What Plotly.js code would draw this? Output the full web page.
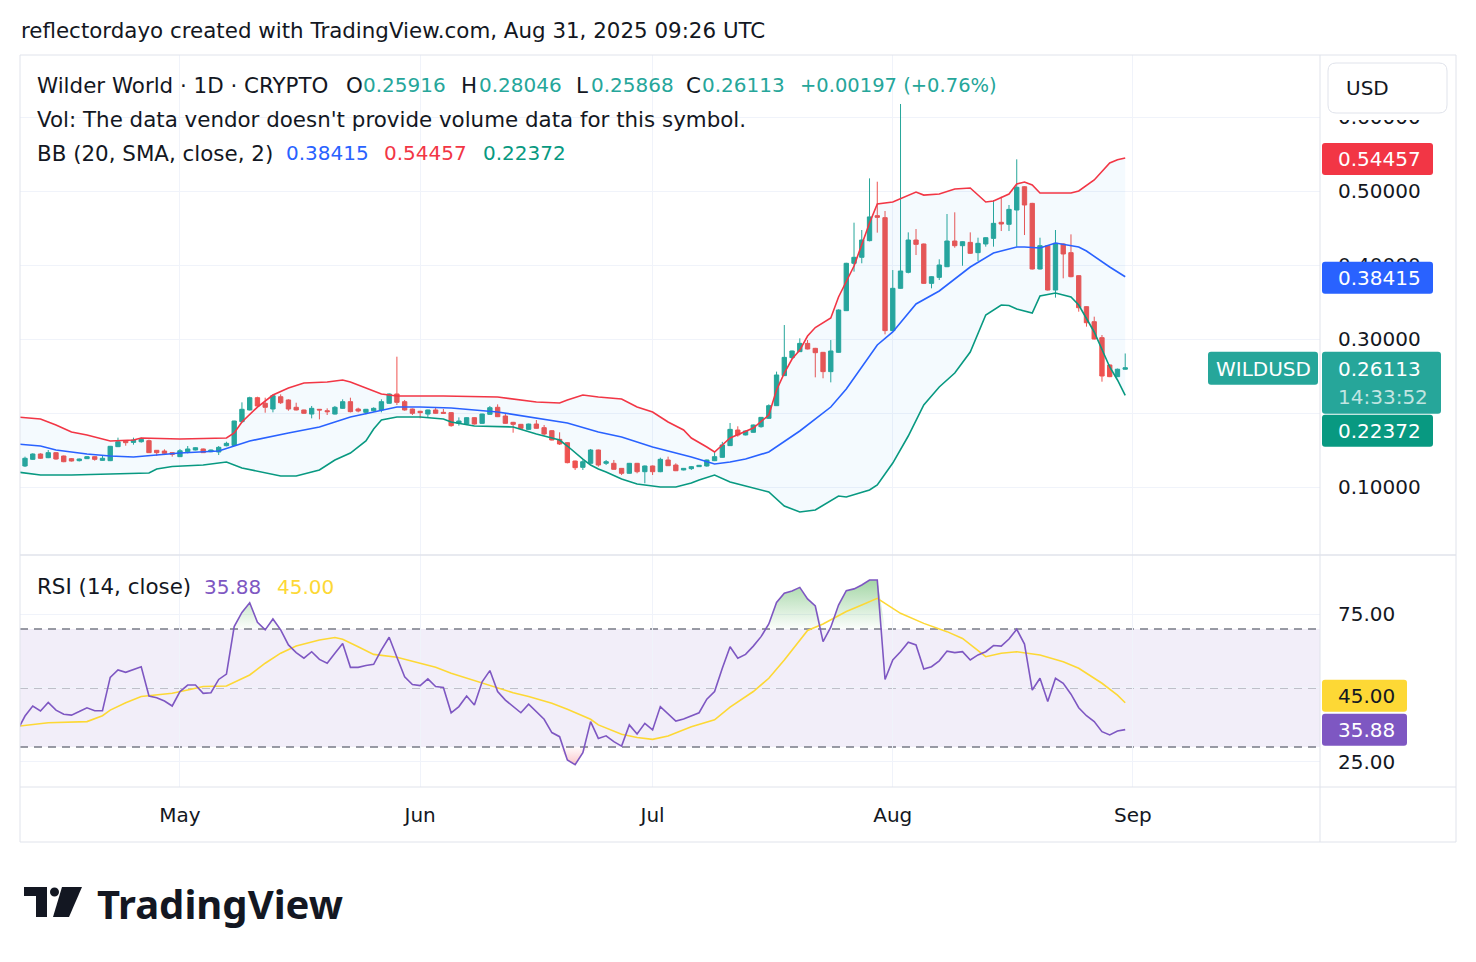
<!DOCTYPE html>
<html>
<head>
<meta charset="utf-8">
<script src="https://cdn.plot.ly/plotly-3.0.1.min.js"></script>
<style>
  html, body { margin: 0; padding: 0; background: #ffffff; }
  #chart { width: 1476px; height: 962px; }
</style>
</head>
<body>
<div id="chart"></div>
<script>
// ---------------- WILDUSD daily candles (first candle = 2025-04-10) ----------------
const firstCandleOffset = -1;   // days relative to 2025-04-11
const opens = [
  0.1392,0.1284,0.1374,0.1446,0.1396,0.1464,0.1419,0.1383,0.1356,0.1383,0.1410,
  0.1360,0.1356,0.1545,0.1622,0.1603,0.1612,0.1626,0.1496,0.1486,0.1464,
  0.1410,0.1477,0.1500,0.1514,0.1477,0.1473,0.1558,0.1560,0.1883,0.2041,
  0.2207,0.2131,0.2054,0.2220,0.2176,0.2077,0.2041,0.1986,0.2050,0.2031,
  0.1986,0.2063,0.2153,0.2054,0.2009,0.2031,0.2041,0.2131,0.2257,0.2153,
  0.2054,0.2023,0.1986,0.2041,0.2009,0.2005,0.1860,0.1851,0.1937,0.1860,
  0.1982,0.2077,0.1959,0.1874,0.1847,0.1779,0.1851,0.1802,0.1761,0.1644,
  0.1599,0.1351,0.1266,0.1320,0.1500,0.1320,0.1320,0.1252,0.1185,0.1320,
  0.1207,0.1284,0.1207,0.1365,0.1297,0.1230,0.1248,0.1275,0.1284,0.1356,
  0.1401,0.1559,0.1770,0.1703,0.1739,0.1815,0.1928,0.2099,0.2505,0.2748,
  0.2829,0.2941,0.2874,0.2820,0.2559,0.2820,0.3383,0.4023,0.4104,0.4329,
  0.4667,0.4640,0.3113,0.3685,0.3901,0.4338,0.4284,0.3752,0.3833,0.3977,
  0.4324,0.4261,0.4306,0.4167,0.4284,0.4360,0.4577,0.4550,0.4743,0.5058,
  0.4833,0.3946,0.4261,0.3662,0.4284,0.4167,0.3856,0.3437,0.3234,0.3018,
  0.2649,0.2491,0.25916
];
const highs = [
  0.1410,0.1410,0.1455,0.1455,0.1500,0.1470,0.1425,0.1392,0.1385,0.1415,0.1415,
  0.1432,0.1555,0.1667,0.1627,0.1667,0.1667,0.1640,0.1500,0.1509,0.1468,
  0.1514,0.1554,0.1536,0.1520,0.1505,0.1554,0.1612,0.1895,0.2144,0.2220,
  0.2220,0.2207,0.2252,0.2252,0.2185,0.2139,0.2045,0.2095,0.2052,0.2063,
  0.2095,0.2185,0.2207,0.2072,0.2055,0.2077,0.2185,0.2265,0.2761,0.2176,
  0.2060,0.2030,0.2045,0.2077,0.2054,0.2010,0.1941,0.1942,0.1942,0.1990,
  0.2095,0.2117,0.1996,0.1880,0.1852,0.1856,0.1905,0.1838,0.1770,0.1739,
  0.1605,0.1356,0.1365,0.1514,0.1505,0.1365,0.1365,0.1257,0.1325,0.1325,
  0.1290,0.1290,0.1396,0.1410,0.1320,0.1257,0.1284,0.1298,0.1370,0.1480,
  0.1610,0.1865,0.1820,0.1762,0.1843,0.1946,0.2117,0.2559,0.3189,0.2843,
  0.3009,0.2986,0.2880,0.2825,0.2986,0.3400,0.4030,0.4572,0.4473,0.5171,
  0.5126,0.4730,0.3932,0.6176,0.4441,0.4486,0.4290,0.3847,0.4077,0.4689,
  0.4712,0.4320,0.4441,0.4369,0.4374,0.4878,0.4923,0.4811,0.5428,0.5065,
  0.4840,0.4369,0.4268,0.4473,0.4290,0.4414,0.3860,0.3442,0.3302,0.3054,
  0.2655,0.2600,0.28046
];
const lows = [
  0.1270,0.1270,0.1365,0.1380,0.1390,0.1370,0.1335,0.1345,0.1345,0.1378,0.1356,
  0.1355,0.1350,0.1540,0.1558,0.1572,0.1599,0.1460,0.1419,0.1432,0.1410,
  0.1405,0.1455,0.1495,0.1460,0.1470,0.1432,0.1550,0.1554,0.1869,0.2035,
  0.2086,0.2004,0.2009,0.2122,0.2031,0.2035,0.1990,0.1928,0.1914,0.1973,
  0.1980,0.2055,0.2009,0.2009,0.1982,0.2018,0.2009,0.2125,0.2108,0.2031,
  0.1973,0.1928,0.1941,0.1990,0.1990,0.1815,0.1829,0.1845,0.1845,0.1855,
  0.1978,0.1945,0.1855,0.1734,0.1788,0.1774,0.1788,0.1694,0.1630,0.1568,
  0.1320,0.1230,0.1230,0.1315,0.1275,0.1297,0.1235,0.1162,0.1180,0.1185,
  0.1050,0.1162,0.1200,0.1284,0.1215,0.1225,0.1230,0.1270,0.1275,0.1350,
  0.1396,0.1555,0.1680,0.1698,0.1734,0.1802,0.1920,0.2095,0.2500,0.2730,
  0.2825,0.2860,0.2482,0.2469,0.2414,0.2815,0.3378,0.3910,0.4023,0.4320,
  0.4437,0.3063,0.3105,0.3680,0.3887,0.4135,0.3745,0.3685,0.3797,0.3972,
  0.4234,0.3990,0.4149,0.4054,0.4248,0.4248,0.4459,0.4459,0.4248,0.4405,
  0.3940,0.3940,0.3655,0.3559,0.3820,0.3835,0.3369,0.3167,0.2995,0.2423,
  0.2485,0.2485,0.25868
];
const closes = [
  0.1289,0.1388,0.1446,0.1388,0.1464,0.1378,0.1342,0.1351,0.1378,0.1410,0.1374,
  0.1388,0.1550,0.1612,0.1599,0.1635,0.1644,0.1464,0.1464,0.1455,0.1441,
  0.1490,0.1514,0.1531,0.1464,0.1500,0.1536,0.1590,0.1892,0.2050,0.2207,
  0.2095,0.2077,0.2234,0.2139,0.2054,0.2041,0.1996,0.2063,0.2041,0.2018,
  0.2077,0.2153,0.2018,0.2027,0.2050,0.2063,0.2153,0.2257,0.2144,0.2041,
  0.1996,0.2005,0.2041,0.1996,0.1996,0.1829,0.1892,0.1937,0.1851,0.1986,
  0.2072,0.1950,0.1860,0.1847,0.1793,0.1851,0.1793,0.1716,0.1635,0.1581,
  0.1329,0.1261,0.1342,0.1500,0.1297,0.1342,0.1239,0.1185,0.1320,0.1207,
  0.1284,0.1207,0.1374,0.1288,0.1220,0.1252,0.1275,0.1293,0.1365,0.1410,
  0.1568,0.1779,0.1703,0.1757,0.1838,0.1941,0.2099,0.2514,0.2752,0.2838,
  0.2941,0.2865,0.2815,0.2559,0.2838,0.3392,0.4023,0.4104,0.4338,0.4650,
  0.4644,0.3113,0.3685,0.3919,0.4338,0.4279,0.3752,0.3842,0.4000,0.4324,
  0.4261,0.4315,0.4158,0.4293,0.4369,0.4563,0.4554,0.4752,0.5050,0.4811,
  0.3946,0.4261,0.3662,0.4293,0.4149,0.3842,0.3423,0.3220,0.3000,0.2500,
  0.2491,0.25916,0.26113
];

// ---------------- Bollinger Bands (20, SMA, close, 2) ----------------
const upperDays = [-1,2,4,6,8,11,14,15,20,26,27,28,30,32,34,36,39,41,42,44,46,48,54,61,66,69,70,72,74,77,79,81,83,85,86,88,89,90,91,94,96,97,98,99,100,101,102,104,105,107,109,110,112,115,116,118,120,122,124,125,127,128,129,130,131,135,136,138,140,141,142];
const upperBand = [0.1946,0.1919,0.1838,0.1743,0.1703,0.1622,0.1635,0.1662,0.1649,0.1662,0.1730,0.1878,0.2080,0.2243,0.2338,0.2405,0.2419,0.2446,0.2419,0.2338,0.2257,0.2230,0.2230,0.2216,0.2149,0.2135,0.2176,0.2243,0.2216,0.2189,0.2081,0.2014,0.1878,0.1770,0.1662,0.1541,0.1473,0.1568,0.1662,0.1797,0.1973,0.2311,0.2540,0.2730,0.2851,0.3040,0.3155,0.3284,0.3568,0.3986,0.4568,0.4824,0.4851,0.4986,0.4945,0.4959,0.5027,0.5041,0.4851,0.4865,0.4959,0.5095,0.5122,0.5081,0.4973,0.4973,0.5000,0.5149,0.5378,0.5422,0.54457];
const basisDays = [-1,2,4,8,11,14,17,20,25,27,29,34,38,42,46,48,51,55,61,66,70,74,77,81,86,89,91,93,96,100,104,106,110,112,115,118,122,125,128,129,131,133,136,137,140,142];
const basisBand = [0.1581,0.1554,0.1500,0.1446,0.1419,0.1405,0.1432,0.1459,0.1486,0.1554,0.1622,0.1730,0.1811,0.1946,0.2041,0.2081,0.2081,0.2068,0.2014,0.1932,0.1865,0.1743,0.1676,0.1541,0.1405,0.1311,0.1338,0.1378,0.1473,0.1757,0.2081,0.2324,0.2919,0.3095,0.3473,0.3649,0.3973,0.4162,0.4243,0.4243,0.4230,0.4297,0.4243,0.4189,0.3973,0.38415];
const lowerDays = [-1,2,6,10,16,17,19,23,26,28,30,33,35,38,40,42,44,45,46,48,51,54,55,58,63,66,69,70,72,73,74,75,77,79,82,84,86,87,89,91,93,96,98,100,102,105,106,109,110,112,114,116,118,120,122,124,126,127,128,130,131,133,135,136,138,140,141,142];
const lowerBand = [0.1203,0.1162,0.1162,0.1176,0.1189,0.1243,0.1277,0.1297,0.1338,0.1257,0.1210,0.1149,0.1149,0.1230,0.1365,0.1459,0.1622,0.1784,0.1905,0.1946,0.1946,0.1919,0.1878,0.1824,0.1811,0.1716,0.1635,0.1554,0.1378,0.1297,0.1243,0.1203,0.1108,0.1041,0.1000,0.1000,0.1054,0.1095,0.1162,0.1068,0.1014,0.0932,0.0743,0.0662,0.0689,0.0878,0.0865,0.0959,0.1027,0.1324,0.1689,0.2108,0.2351,0.2541,0.2824,0.3324,0.3459,0.3453,0.3405,0.3351,0.3581,0.3622,0.3568,0.3459,0.3095,0.2622,0.2446,0.22372];

// ---------------- RSI (14, close), one value per candle ----------------
const rsi = [
  35.5,40.5,43.9,42.2,45.1,42.5,41.1,40.8,42.0,43.3,42.3,
  42.3,53.6,56.1,55.3,56.3,57.2,47.3,46.7,45.6,43.9,
  48.8,51.0,51.0,48.2,48.4,52.9,54.7,70.8,75.6,78.9,
  72.3,69.7,73.4,69.7,64.6,62.0,60.1,62.3,59.7,58.4,
  61.8,65.1,57.0,57.0,57.6,58.0,62.9,67.2,60.4,53.8,
  51.2,50.8,53.1,50.5,50.2,41.6,43.7,47.3,44.2,52.1,
  55.9,48.8,45.9,43.7,41.6,44.5,42.0,39.4,34.9,33.5,
  25.6,24.0,28.1,38.6,32.9,33.8,31.8,30.3,37.5,34.4,
  38.0,35.8,43.7,41.2,38.8,39.5,40.5,41.6,46.2,48.8,
  56.7,64.0,60.1,61.4,64.2,67.4,71.7,79.0,82.1,82.9,
  84.1,80.2,77.8,65.7,70.6,78.1,83.0,83.6,84.9,86.6,
  86.6,52.9,59.5,62.3,65.5,64.6,56.4,57.2,59.2,62.5,
  62.0,62.3,59.5,61.2,62.3,64.4,64.2,66.6,69.9,64.9,
  49.3,53.3,45.4,53.3,51.6,47.9,43.3,40.6,38.6,35.2,
  34.1,35.4,35.88
];
// RSI-based moving average
const rsiMaDays = [-1,2,3,8,10,11,13,15,19,21,23,26,29,31,33,35,38,40,41,43,45,48,51,53,55,57,59,61,63,65,68,70,73,74,77,79,81,83,86,89,91,94,96,98,101,103,106,108,110,113,116,119,121,124,126,128,131,134,136,139,141,142];
const rsiMa = [37.0,37.8,38.2,38.6,40.6,42.5,45.0,47.1,48.2,49.3,50.5,50.7,54.4,58.4,61.8,64.2,66.3,67.1,66.5,64.0,61.4,60.4,58.4,57.0,55.0,53.3,51.6,49.9,48.4,47.1,44.8,42.8,39.4,37.5,34.3,33.2,32.6,33.7,36.9,39.2,43.5,48.8,53.3,59.5,69.5,71.7,75.9,78.1,80.4,75.3,71.9,69.1,66.8,60.6,61.8,62.3,61.2,58.9,56.7,51.6,47.6,45.0];

// ---------------- axis ticks ----------------
const monthTicks = ['2025-05-01','2025-06-01','2025-07-01','2025-08-01','2025-09-01'];
const monthLabels = ['May','Jun','Jul','Aug','Sep'];
const priceTicks = [0.1, 0.2, 0.3, 0.4, 0.5, 0.6];
const priceTickLabels = ['0.10000', '', '0.30000', '0.40000', '0.50000', '0.60000'];
const rsiTicks = [25, 50, 75];
const rsiTickLabels = ['25.00', '', '75.00'];
const countdown = '14:33:52';

// ---------------- helpers ----------------
const DAY = 86400000;
const DAY0 = Date.UTC(2025, 3, 11);
const dateOf = d => new Date(DAY0 + d * DAY).toISOString().slice(0, 10);
const candleDates = closes.map((_, i) => dateOf(i + firstCandleOffset));
const fmt5 = v => v.toFixed(5);
const fmt2 = v => v.toFixed(2);

const FONT = 'DejaVu Sans, sans-serif';
const WORD = 21.4;      // size for worded legend text
const NUM = 20;         // size for numbers
const TEXT = '#131722';
const UP = '#26a69a', DOWN = '#ef5350';
const BB_UP = '#f23645', BB_MID = '#2962ff', BB_LOW = '#089981';
const RSI_C = '#7e57c2', RSI_MA_C = '#fdd835';

// plot geometry in page pixels
const L = 20, R = 1320, T = 55, B = 787;
const SPLIT = 555;                       // border between price and RSI panes
const priceRange = [0.00811, 0.6838];
const rsiRange = [16.44, 95.08];
const X = p => (p - L) / (R - L);
const Y = p => (B - p) / (B - T);
const pricePx = v => SPLIT - (v - priceRange[0]) / (priceRange[1] - priceRange[0]) * (SPLIT - T);
const rsiPx = v => B - (v - rsiRange[0]) / (rsiRange[1] - rsiRange[0]) * (B - SPLIT);

const annotations = [];
const shapes = [];
function label(x, y, text, color, size, family) {
  annotations.push({
    xref: 'paper', yref: 'paper', x: X(x), y: Y(y),
    xanchor: 'left', yanchor: 'middle', showarrow: false, text: text,
    font: { family: family || FONT, size: size || NUM, color: color }
  });
}
function roundRect(x0, y0, x1, y1, r) {
  const P = (x, y) => X(x) + ',' + Y(y);
  return 'M' + P(x0 + r, y0) + ' L' + P(x1 - r, y0) + ' Q' + P(x1, y0) + ' ' + P(x1, y0 + r) +
         ' L' + P(x1, y1 - r) + ' Q' + P(x1, y1) + ' ' + P(x1 - r, y1) +
         ' L' + P(x0 + r, y1) + ' Q' + P(x0, y1) + ' ' + P(x0, y1 - r) +
         ' L' + P(x0, y0 + r) + ' Q' + P(x0, y0) + ' ' + P(x0 + r, y0) + ' Z';
}
function box(x0, y0, x1, y1, r, fill, stroke) {
  shapes.push({ type: 'path', xref: 'paper', yref: 'paper', path: roundRect(x0, y0, x1, y1, r),
    fillcolor: fill, line: { color: stroke || fill, width: stroke ? 1 : 0 }, layer: 'above' });
}
function hline(x0, x1, y, color, width) {
  shapes.push({ type: 'line', xref: 'paper', yref: 'paper', x0: X(x0), x1: X(x1), y0: Y(y), y1: Y(y),
    line: { color: color, width: width }, layer: 'above' });
}
function vline(x, y0, y1, color, width) {
  shapes.push({ type: 'line', xref: 'paper', yref: 'paper', x0: X(x), x1: X(x), y0: Y(y0), y1: Y(y1),
    line: { color: color, width: width }, layer: 'above' });
}
function polygon(pts, color) {
  const d = pts.map((p, i) => (i ? 'L' : 'M') + X(p[0]) + ',' + Y(p[1])).join(' ') + ' Z';
  shapes.push({ type: 'path', xref: 'paper', yref: 'paper', path: d, fillcolor: color,
    line: { width: 0 }, layer: 'above' });
}

// ---------------- traces ----------------
const n = closes.length;
const last = n - 1;
const traces = [];

// Bollinger Bands: upper, lower (filled against upper), basis
traces.push({ type: 'scatter', mode: 'lines', x: upperDays.map(dateOf), y: upperBand,
  xaxis: 'x', yaxis: 'y2', line: { color: BB_UP, width: 1.6 }, hoverinfo: 'skip' });
traces.push({ type: 'scatter', mode: 'lines', x: lowerDays.map(dateOf), y: lowerBand,
  xaxis: 'x', yaxis: 'y2', line: { color: BB_LOW, width: 1.6 }, fill: 'tonexty',
  fillcolor: 'rgba(33,150,243,0.05)', hoverinfo: 'skip' });
traces.push({ type: 'scatter', mode: 'lines', x: basisDays.map(dateOf), y: basisBand,
  xaxis: 'x', yaxis: 'y2', line: { color: BB_MID, width: 1.6 }, hoverinfo: 'skip' });

// candles
traces.push({ type: 'candlestick', x: candleDates, open: opens, high: highs, low: lows, close: closes,
  xaxis: 'x', yaxis: 'y2', whiskerwidth: 0, hoverinfo: 'none',
  increasing: { line: { color: UP, width: 1 }, fillcolor: UP },
  decreasing: { line: { color: DOWN, width: 1 }, fillcolor: DOWN } });

// RSI overbought / oversold shading
const rsiDates = candleDates;
traces.push({ type: 'scatter', mode: 'lines', x: rsiDates, y: rsi.map(() => 70),
  xaxis: 'x', yaxis: 'y', line: { width: 0 }, hoverinfo: 'skip' });
traces.push({ type: 'scatter', mode: 'lines', x: rsiDates, y: rsi.map(v => Math.max(v, 70)),
  xaxis: 'x', yaxis: 'y', line: { width: 0 }, fill: 'tonexty', hoverinfo: 'skip',
  fillgradient: { type: 'vertical', start: 70, stop: 88,
    colorscale: [[0, 'rgba(76,175,80,0.02)'], [1, 'rgba(76,175,80,0.55)']] } });
traces.push({ type: 'scatter', mode: 'lines', x: rsiDates, y: rsi.map(() => 30),
  xaxis: 'x', yaxis: 'y', line: { width: 0 }, hoverinfo: 'skip' });
traces.push({ type: 'scatter', mode: 'lines', x: rsiDates, y: rsi.map(v => Math.min(v, 30)),
  xaxis: 'x', yaxis: 'y', line: { width: 0 }, fill: 'tonexty', hoverinfo: 'skip',
  fillgradient: { type: 'vertical', start: 20, stop: 30,
    colorscale: [[0, 'rgba(242,54,69,0.45)'], [1, 'rgba(242,54,69,0.02)']] } });

// RSI-based MA and RSI line
traces.push({ type: 'scatter', mode: 'lines', x: rsiMaDays.map(dateOf), y: rsiMa,
  xaxis: 'x', yaxis: 'y', line: { color: RSI_MA_C, width: 1.6 }, hoverinfo: 'skip' });
traces.push({ type: 'scatter', mode: 'lines', x: rsiDates, y: rsi,
  xaxis: 'x', yaxis: 'y', line: { color: RSI_C, width: 1.6 }, hoverinfo: 'skip' });

// ---------------- RSI pane guides ----------------
shapes.push({ type: 'rect', xref: 'paper', yref: 'y', x0: 0, x1: 1, y0: 30, y1: 70,
  fillcolor: 'rgba(126,87,194,0.1)', line: { width: 0 }, layer: 'between' });
[[70, 'rgba(120,123,134,1)'], [50, 'rgba(120,123,134,0.55)'], [30, 'rgba(120,123,134,1)']].forEach(([v, c]) => {
  shapes.push({ type: 'line', xref: 'paper', yref: 'y', x0: 0, x1: 1, y0: v, y1: v,
    line: { color: c, width: 1.5, dash: '8px,6px' }, layer: 'between' });
});

// ---------------- frame ----------------
const FRAME = '#e0e3eb';
// white strip under the currency button, it hides the upper part of the top price label
shapes.push({ type: 'rect', xref: 'paper', yref: 'paper', x0: X(1322), x1: X(1454), y0: Y(120), y1: Y(57),
  fillcolor: '#ffffff', line: { width: 0 }, layer: 'above' });
hline(L, 1456, T, FRAME, 1);
hline(L, 1456, 842, FRAME, 1);
hline(L, 1456, SPLIT, FRAME, 1.5);
hline(L, 1456, B, FRAME, 1);
vline(L, T, 842, FRAME, 1);
vline(R, T, 842, FRAME, 1);
vline(1456, T, 842, FRAME, 1);

// ---------------- text: header + legends ----------------
label(19, 31, 'reflectordayo created with TradingView.com, Aug 31, 2025 09:26 UTC', TEXT, WORD);

const o = opens[last], h = highs[last], lo = lows[last], c = closes[last];
const chg = c - closes[last - 1];
const chgPct = chg / closes[last - 1] * 100;
const chgColor = chg >= 0 ? UP : DOWN;
label(35, 85, 'Wilder World · 1D · CRYPTO', TEXT, WORD);
label(344, 85, 'O', TEXT, WORD); label(361, 85, fmt5(o), chgColor);
label(459, 85, 'H', TEXT, WORD); label(477, 85, fmt5(h), chgColor);
label(574, 85, 'L', TEXT, WORD); label(589, 85, fmt5(lo), chgColor);
label(684, 85, 'C', TEXT, WORD); label(700, 85, fmt5(c), chgColor);
label(798, 85, (chg >= 0 ? '+' : '') + fmt5(chg) + ' (' + (chg >= 0 ? '+' : '') + chgPct.toFixed(2) + '%)', chgColor, 19.5);
label(35, 119, "Vol: The data vendor doesn't provide volume data for this symbol.", TEXT, WORD);
label(35, 153, 'BB (20, SMA, close, 2)', TEXT, WORD);
label(284, 153, fmt5(basisBand[basisBand.length - 1]), BB_MID);
label(382, 153, fmt5(upperBand[upperBand.length - 1]), BB_UP);
label(481, 153, fmt5(lowerBand[lowerBand.length - 1]), BB_LOW);

label(35, 587, 'RSI (14, close)', TEXT, WORD);
label(202, 587, fmt2(rsi[last]), RSI_C);
label(275, 587, fmt2(rsiMa[rsiMa.length - 1]), RSI_MA_C);

// ---------------- price scale tags ----------------
box(1328, 63, 1447, 113, 8, '#ffffff', FRAME);
label(1344, 88, 'USD', TEXT);

const upLast = upperBand[upperBand.length - 1];
let yc = pricePx(upLast) + 1;
box(1322, yc - 16, 1433, yc + 16, 3, BB_UP);
label(1336, yc, fmt5(upLast), '#ffffff');

const midLast = basisBand[basisBand.length - 1];
yc = pricePx(midLast) + 1;
box(1322, yc - 16, 1433, yc + 16, 3, BB_MID);
label(1336, yc, fmt5(midLast), '#ffffff');

yc = pricePx(c) + 1;
box(1208, yc - 17, 1318, yc + 16, 3, UP);
label(1214, yc, 'WILDUSD', '#ffffff');
box(1322, yc - 17, 1441, yc + 45, 3, UP);
label(1336, yc, fmt5(c), '#ffffff');
label(1336, yc + 28, countdown, 'rgba(255,255,255,0.72)');
const lowLast = lowerBand[lowerBand.length - 1];
box(1322, yc + 46, 1433, yc + 78, 3, BB_LOW);
label(1336, yc + 62, fmt5(lowLast), '#ffffff');

yc = rsiPx(rsi[last]);
box(1322, yc - 16, 1407, yc + 16, 3, RSI_C);
label(1336, yc, fmt2(rsi[last]), '#ffffff');
box(1322, yc - 50, 1407, yc - 18, 3, RSI_MA_C);
label(1336, yc - 34, fmt2(rsiMa[rsiMa.length - 1]), TEXT);

// ---------------- TradingView wordmark ----------------
polygon([[24, 887], [47, 887], [47, 917], [36, 917], [36, 896], [24, 896]], TEXT);
shapes.push({ type: 'circle', xref: 'paper', yref: 'paper', x0: X(50), x1: X(59), y0: Y(896.5), y1: Y(887.5),
  fillcolor: TEXT, line: { width: 0 }, layer: 'above' });
polygon([[62, 887], [82, 887], [69, 917], [53, 917]], TEXT);
label(95, 903, '<b>TradingView</b>', TEXT, 40, 'Noto Sans, sans-serif');

// ---------------- layout ----------------
const layout = {
  width: 1476, height: 962,
  margin: { l: L, r: 1476 - R, t: T, b: 962 - B, pad: 0 },
  paper_bgcolor: '#ffffff', plot_bgcolor: '#ffffff',
  font: { family: FONT, size: 20, color: TEXT },
  showlegend: false, hovermode: false, dragmode: false,
  boxgap: 0.44, boxgroupgap: 0,
  xaxis: {
    type: 'date', range: ['2025-04-10 08:31', '2025-09-25 03:22'],
    tickmode: 'array', tickvals: monthTicks, ticktext: monthLabels,
    showgrid: true, gridcolor: '#f0f3fa', gridwidth: 1, zeroline: false, showline: false,
    ticks: '', ticklabelstandoff: 14, tickfont: { family: FONT, size: 20, color: TEXT },
    rangeslider: { visible: false }, anchor: 'y', fixedrange: true
  },
  yaxis: {
    domain: [0, (B - SPLIT) / (B - T)], range: rsiRange, side: 'right', anchor: 'x',
    tickmode: 'array', tickvals: rsiTicks, ticktext: rsiTickLabels,
    showgrid: true, gridcolor: '#f0f3fa', zeroline: false, showline: false,
    ticks: '', ticklabelstandoff: 17, tickfont: { family: FONT, size: 20, color: TEXT }, fixedrange: true
  },
  yaxis2: {
    domain: [(B - SPLIT) / (B - T), 1], range: priceRange, side: 'right', anchor: 'x',
    tickmode: 'array', tickvals: priceTicks, ticktext: priceTickLabels,
    showgrid: true, gridcolor: '#f0f3fa', zeroline: false, showline: false,
    ticks: '', ticklabelstandoff: 17, tickfont: { family: FONT, size: 20, color: TEXT }, fixedrange: true
  },
  shapes: shapes,
  annotations: annotations
};

Plotly.newPlot('chart', traces, layout, { staticPlot: true, displayModeBar: false });
</script>
</body>
</html>
